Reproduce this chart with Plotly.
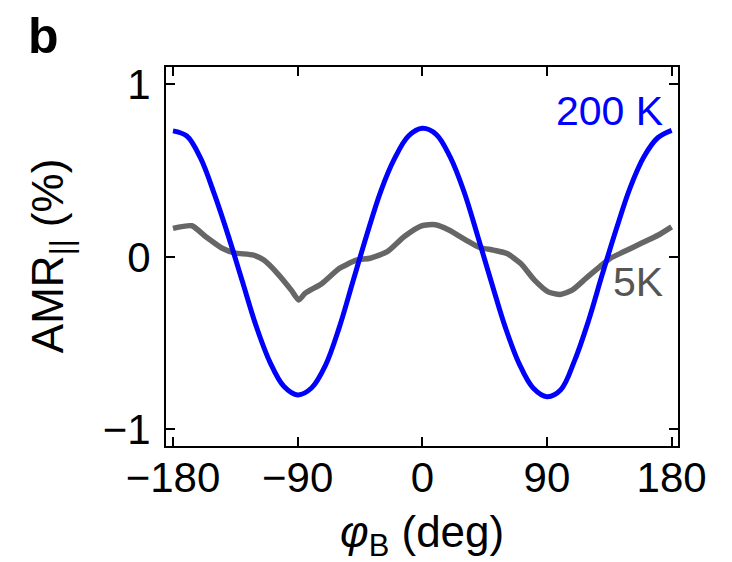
import plotly.graph_objects as go

# 200 K curve (blue)
phi_200 = [-180, -170, -160, -150, -140, -130, -120, -110, -100, -90, -80, -70, -60, -50, -40, -30, -20, -10,
           0, 10, 20, 30, 40, 50, 60, 70, 80, 90, 100, 110, 120, 130, 140, 150, 160, 170, 180]
amr_200 = [0.73, 0.70, 0.57, 0.36, 0.12, -0.14, -0.40, -0.61, -0.75, -0.80, -0.76, -0.63, -0.41, -0.14, 0.13,
           0.38, 0.57, 0.70, 0.745, 0.71, 0.58, 0.38, 0.12, -0.15, -0.41, -0.62, -0.76, -0.81, -0.77, -0.60,
           -0.37, -0.10, 0.16, 0.40, 0.58, 0.69, 0.733]

# 5 K curve (gray)
phi_5 = [-180, -166.4, -156.5, -144.1, -135.5, -121.9, -114.4, -104.5, -94.6, -89.2, -84.7, -72.4, -60.0,
         -47.6, -37.7, -25.4, -13.0, -0.6, 9.3, 19.2, 31.5, 41.4, 51.3, 61.2, 71.1, 81.0, 90.9, 99.6, 108.2,
         118.1, 128.0, 135.4, 145.3, 157.7, 170.1, 180]
amr_5 = [0.165, 0.180, 0.118, 0.048, 0.023, 0.010, -0.019, -0.097, -0.193, -0.250, -0.212, -0.154, -0.068,
         -0.019, -0.008, 0.030, 0.118, 0.180, 0.186, 0.156, 0.097, 0.054, 0.039, 0.019, -0.039, -0.135, -0.203,
         -0.218, -0.193, -0.125, -0.058, -0.010, 0.029, 0.077, 0.125, 0.174]

x_ticks = [-180, -90, 0, 90, 180]
x_ticktext = ["\u2212180", "\u221290", "0", "90", "180"]
y_ticks = [-1, 0, 1]
y_ticktext = ["\u22121", "0", "1"]

FONT = "Liberation Sans, Arial, Helvetica, sans-serif"
BLUE = "#0000ff"
GRAY = "#666666"

fig = go.Figure()
fig.add_trace(go.Scatter(x=phi_5, y=amr_5, mode="lines", line=dict(color=GRAY, width=5.5, shape="spline", smoothing=0.6),
                         showlegend=False, hoverinfo="skip"))
fig.add_trace(go.Scatter(x=phi_200, y=amr_200, mode="lines", line=dict(color=BLUE, width=5, shape="spline", smoothing=1.0),
                         showlegend=False, hoverinfo="skip"))

axis_common = dict(showline=True, linecolor="black", linewidth=2, mirror="ticks", ticks="inside",
                   ticklen=9, tickwidth=2, tickcolor="black", showgrid=False, zeroline=False,
                   tickfont=dict(family=FONT, size=42, color="black"))

fig.update_xaxes(range=[-185.05, 184.6], tickvals=x_ticks, ticktext=x_ticktext, ticklabelstandoff=-6, **axis_common)
fig.update_yaxes(range=[-1.096, 1.10], tickvals=y_ticks, ticktext=y_ticktext, ticklabelstandoff=5, **axis_common)

annotations = [
    dict(x=175, y=0.844, xref="x", yref="y", text="200 K", showarrow=False, xanchor="right", yanchor="middle",
         font=dict(family=FONT, size=41, color=BLUE)),
    dict(x=175, y=-0.147, xref="x", yref="y", text="5K", showarrow=False, xanchor="right", yanchor="middle",
         font=dict(family=FONT, size=41, color="#555555")),
    dict(x=(26 - 166) / 512, y=(446 - 36) / 379.3, xref="paper", yref="paper", text="<b>b</b>", showarrow=False,
         xanchor="left", yanchor="middle", font=dict(family=FONT, size=50, color="black")),
    dict(x=(51 - 166) / 512, y=(446 - 256) / 379.3, xref="paper", yref="paper",
         text="AMR<sub>||</sub> (%)", textangle=-90, showarrow=False, xanchor="center", yanchor="middle",
         font=dict(family=FONT, size=44, color="black")),
    dict(x=(422 - 166) / 512, y=(446 - 535) / 379.3, xref="paper", yref="paper",
         text="<i>\u03c6</i><sub>B</sub> (deg)", showarrow=False, xanchor="center", yanchor="middle",
         font=dict(family=FONT, size=44, color="black")),
]

fig.update_layout(width=732, height=562, margin=dict(l=166, r=54, t=67, b=116, pad=0),
                  plot_bgcolor="white", paper_bgcolor="white", annotations=annotations,
                  font=dict(family=FONT))

fig.write_html("out.html", config={"displayModeBar": False},
               post_script="document.body.style.margin='0';document.body.style.padding='0';")
